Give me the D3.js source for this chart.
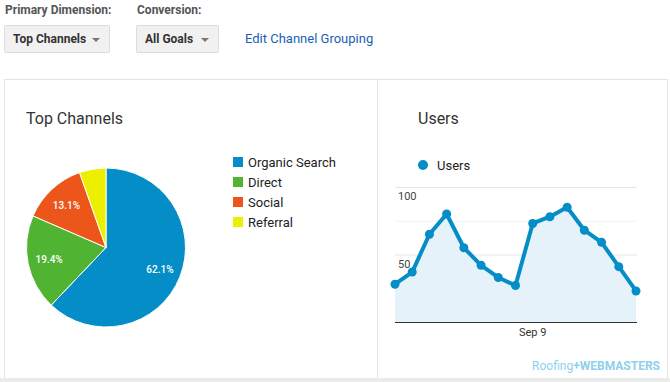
<!DOCTYPE html>
<html>
<head>
<meta charset="utf-8">
<script src="https://cdn.jsdelivr.net/npm/d3@7"></script>
<style>
    body { margin: 0; background: #fff; }
    svg { display: block; font-family: Roboto, "Noto Sans", Arial, sans-serif; }
</style>
</head>
<body>
<div id="chart"></div>
<script>

// pie data
const channels = ["Organic Search", "Direct", "Social", "Referral"];
const shares = [62.1, 19.4, 13.1, 5.4];
const channelColors = ["#058dc7", "#50b432", "#ed561b", "#edef00"];

// users line data (15 days)
const dayIndex = [1, 2, 3, 4, 5, 6, 7, 8, 9, 10, 11, 12, 13, 14, 15];
const users = [28, 37, 65, 80, 55, 42, 33, 27, 73, 78, 85, 68, 59, 41, 23];
const userTicks = [50, 100];
const dateLabel = { index: 9, text: "Sep 9" };

const width = 670;
const height = 382;

const svg = d3.select("#chart")
    .append("svg")
    .attr("width", width)
    .attr("height", height);

// ---- top controls
svg.append("text").attr("x", 5).attr("y", 14)
    .attr("font-size", 12).attr("font-weight", 700).attr("fill", "#555")
    .text("Primary Dimension:");
svg.append("text").attr("x", 137).attr("y", 14)
    .attr("font-size", 12).attr("font-weight", 700).attr("fill", "#555")
    .text("Conversion:");

function dropdown(x, w, label) {
    svg.append("rect")
        .attr("x", x + 0.5).attr("y", 25.5)
        .attr("width", w).attr("height", 27)
        .attr("fill", "#f1f1f1").attr("stroke", "#dcdcdc")
        .attr("rx", 1);
    svg.append("text").attr("x", x + 9).attr("y", 43)
        .attr("font-size", 12).attr("font-weight", 700).attr("fill", "#333")
        .text(label);
    const ax = x + w - 13;
    svg.append("path")
        .attr("d", "M" + (ax - 4) + ",38 L" + (ax + 4) + ",38 L" + ax + ",42 Z")
        .attr("fill", "#777");
}
dropdown(4, 105, "Top Channels");
dropdown(136, 82, "All Goals");

svg.append("text").attr("x", 245).attr("y", 43)
    .attr("font-size", 13).attr("fill", "#1a5fb4")
    .text("Edit Channel Grouping");

// ---- card frame
svg.append("rect")
    .attr("x", 4.5).attr("y", 79.5)
    .attr("width", 663).attr("height", 299)
    .attr("fill", "none").attr("stroke", "#e3e3e3");
svg.append("line")
    .attr("x1", 377.5).attr("x2", 377.5).attr("y1", 80).attr("y2", 378)
    .attr("stroke", "#e3e3e3");
svg.append("rect")
    .attr("x", 0).attr("y", 378).attr("width", width).attr("height", 4)
    .attr("fill", "#ebebeb");

// ---- pie
svg.append("text").attr("x", 26).attr("y", 124)
    .attr("font-size", 16).attr("fill", "#333")
    .text("Top Channels");

const pieData = channels.map(function(c, i) {
    return { name: c, value: shares[i], color: channelColors[i] };
});

const pie = d3.pie()
    .sort(null)
    .value(function(d) { return d.value; });

const radius = 79.5;
const arc = d3.arc().innerRadius(0).outerRadius(radius);
const labelArc = d3.arc().innerRadius(radius * 0.73).outerRadius(radius * 0.73);

const pieG = svg.append("g")
    .attr("transform", "translate(106,247.5)");

pieG.selectAll("path")
    .data(pie(pieData))
    .enter()
    .append("path")
    .attr("d", arc)
    .attr("fill", function(d) { return d.data.color; })
    .attr("stroke", "#fff")
    .attr("stroke-width", 1);

pieG.selectAll("text")
    .data(pie(pieData).filter(function(d) { return d.data.value > 10; }))
    .enter()
    .append("text")
    .attr("transform", function(d) { return "translate(" + labelArc.centroid(d) + ")"; })
    .attr("text-anchor", "middle")
    .attr("dy", "0.35em")
    .attr("font-size", 10)
    .attr("font-weight", 500)
    .attr("fill", "#fff")
    .text(function(d) { return d.data.value.toFixed(1) + "%"; });

const legend = svg.append("g")
    .selectAll("g")
    .data(pieData)
    .enter()
    .append("g")
    .attr("transform", function(d, i) { return "translate(233," + (157 + i * 20) + ")"; });

legend.append("rect")
    .attr("width", 10).attr("height", 10)
    .attr("fill", function(d) { return d.color; });
legend.append("text")
    .attr("x", 15).attr("y", 10)
    .attr("font-size", 13).attr("fill", "#222")
    .text(function(d) { return d.name; });

// ---- users line chart
svg.append("text").attr("x", 418).attr("y", 124)
    .attr("font-size", 16).attr("fill", "#333")
    .text("Users");

svg.append("circle").attr("cx", 423).attr("cy", 165).attr("r", 5)
    .attr("fill", "#058dc7");
svg.append("text").attr("x", 437).attr("y", 170)
    .attr("font-size", 13).attr("fill", "#222")
    .text("Users");

const x = d3.scaleLinear()
    .domain([1, 15])
    .range([395, 636]);

const y = d3.scaleLinear()
    .domain([0, 100])
    .range([322, 187]);

// gridlines
svg.append("g")
    .selectAll("line")
    .data([25, 50, 75, 100])
    .enter()
    .append("line")
    .attr("x1", 395).attr("x2", 637)
    .attr("y1", function(d) { return y(d) + 0.5; })
    .attr("y2", function(d) { return y(d) + 0.5; })
    .attr("stroke", function(d) { return d % 50 === 0 ? "#e6e6e6" : "#f2f2f2"; });

const area = d3.area()
    .x(function(d, i) { return x(dayIndex[i]); })
    .y0(y(0))
    .y1(function(d) { return y(d); });

const line = d3.line()
    .x(function(d, i) { return x(dayIndex[i]); })
    .y(function(d) { return y(d); });

svg.append("path")
    .datum(users)
    .attr("d", area)
    .attr("fill", "#e6f2f9");

svg.append("line")
    .attr("x1", 395).attr("x2", 637)
    .attr("y1", y(0) + 0.5).attr("y2", y(0) + 0.5)
    .attr("stroke", "#333");

svg.append("path")
    .datum(users)
    .attr("d", line)
    .attr("fill", "none")
    .attr("stroke", "#058dc7")
    .attr("stroke-width", 4)
    .attr("stroke-linejoin", "round");

svg.selectAll(".dot")
    .data(users)
    .enter()
    .append("circle")
    .attr("class", "dot")
    .attr("cx", function(d, i) { return x(dayIndex[i]); })
    .attr("cy", function(d) { return y(d); })
    .attr("r", 4.5)
    .attr("fill", "#058dc7");

svg.selectAll(".ytick")
    .data(userTicks)
    .enter()
    .append("text")
    .attr("class", "ytick")
    .attr("x", 398)
    .attr("y", function(d) { return y(d) + 13; })
    .attr("font-size", 11)
    .attr("fill", "#444")
    .text(function(d) { return d; });

svg.append("text")
    .attr("x", x(dateLabel.index))
    .attr("y", 336)
    .attr("text-anchor", "middle")
    .attr("font-size", 11)
    .attr("fill", "#333")
    .text(dateLabel.text);

// watermark
const wm = svg.append("text")
    .attr("x", 660).attr("y", 370)
    .attr("text-anchor", "end")
    .attr("font-size", 12)
    .attr("fill", "#8fd0ee");
wm.append("tspan").text("Roofing");
wm.append("tspan").attr("font-weight", 700).text("+");
wm.append("tspan").attr("font-weight", 700).text("WEBMASTERS");

</script>
</body>
</html>
